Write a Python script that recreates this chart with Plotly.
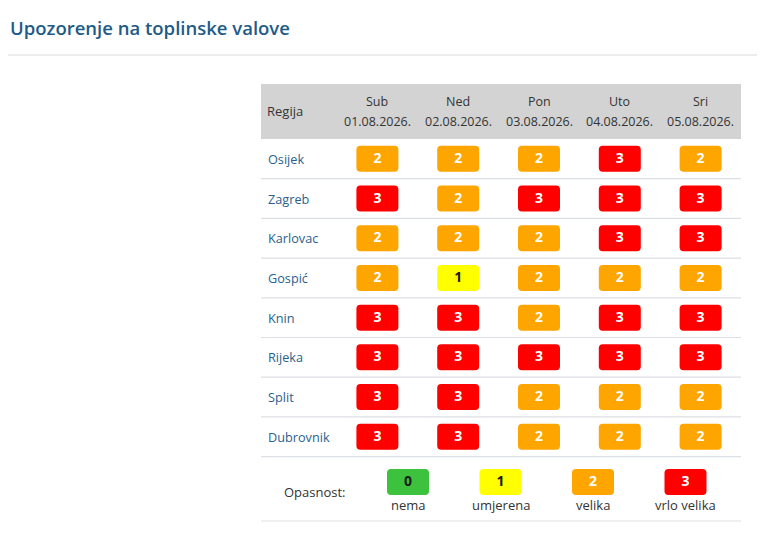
import plotly.graph_objects as go

# ------------------------
# Data
# ------------------------
title = "Upozorenje na toplinske valove"
regions = ["Osijek", "Zagreb", "Karlovac", "Gospić", "Knin", "Rijeka", "Split", "Dubrovnik"]
days = ["Sub", "Ned", "Pon", "Uto", "Sri"]
dates = ["01.08.2026.", "02.08.2026.", "03.08.2026.", "04.08.2026.", "05.08.2026."]
levels = [
    [2, 2, 2, 3, 2],  # Osijek
    [3, 2, 3, 3, 3],  # Zagreb
    [2, 2, 2, 3, 3],  # Karlovac
    [2, 1, 2, 2, 2],  # Gospić
    [3, 3, 2, 3, 3],  # Knin
    [3, 3, 3, 3, 3],  # Rijeka
    [3, 3, 2, 2, 2],  # Split
    [3, 3, 2, 2, 2],  # Dubrovnik
]
legend_values = [0, 1, 2, 3]
legend_labels = ["nema", "umjerena", "velika", "vrlo velika"]

# ------------------------
# Styling / layout (pixel units of the page)
# ------------------------
W, H = 765, 542
PAD = 8  # default body margin of the html page
FONT = "Open Sans"
fill = {0: "#3cc23c", 1: "#ffff00", 2: "#ffa500", 3: "#ff0000"}
ink = {0: "#1a1a1a", 1: "#1a1a1a", 2: "#ffffff", 3: "#ffffff"}

tbl_left, tbl_right = 261, 741
head_top, head_bot = 84, 139
row_h = 39.7
col0, col_w = 377.4, 80.8
box_w, box_h = 42, 26
leg_x0, leg_dx = 408, 92.5
leg_box_y, leg_lab_y = 482, 505
leg_bottom = 521

fig = go.Figure()

# level boxes
bx, by, bc, tx, ty, tt, tc = [], [], [], [], [], [], []
for r, row in enumerate(levels):
    yc = head_bot + row_h * (r + 0.5)
    for c, v in enumerate(row):
        xc = col0 + c * col_w
        bx.append(xc); by.append(yc - box_h / 2); bc.append(fill[v])
        tx.append(xc); ty.append(yc + 0.5); tt.append(str(v)); tc.append(ink[v])
for i, v in enumerate(legend_values):
    xc = leg_x0 + i * leg_dx
    bx.append(xc); by.append(leg_box_y - box_h / 2); bc.append(fill[v])
    tx.append(xc); ty.append(leg_box_y + 0.5); tt.append(str(v)); tc.append(ink[v])

fig.add_trace(go.Bar(
    x=bx, y=[box_h] * len(bx), base=by, width=box_w,
    marker=dict(color=bc, cornerradius=4, line=dict(width=0)),
    hoverinfo="skip", showlegend=False
))
fig.add_trace(go.Scatter(
    x=tx, y=ty, mode="text", text=tt,
    textfont=dict(family=FONT, size=14, color=tc, weight="bold"),
    hoverinfo="skip", showlegend=False
))

# header background
shapes = [dict(type="rect", xref="x", yref="y", x0=tbl_left, x1=tbl_right,
               y0=head_top, y1=head_bot, fillcolor="#d3d3d3", line=dict(width=0), layer="below")]
# title rule
shapes.append(dict(type="line", xref="x", yref="y", x0=PAD, x1=W, y0=55, y1=55,
                   line=dict(color="#d8dadd", width=1.2)))
# row separators
for r in range(len(regions)):
    yl = head_bot + row_h * (r + 1)
    shapes.append(dict(type="line", xref="x", yref="y", x0=tbl_left, x1=tbl_right,
                       y0=yl, y1=yl, line=dict(color="#dcdfe3", width=1.2)))
shapes.append(dict(type="line", xref="x", yref="y", x0=tbl_left, x1=tbl_right,
                   y0=leg_bottom, y1=leg_bottom, line=dict(color="#dcdfe3", width=1.2)))

ann = []
ann.append(dict(x=PAD, y=27, text=title, xanchor="left", yanchor="middle", showarrow=False,
                font=dict(family=FONT, size=18.5, color="#1e5b87", weight=600)))
ann.append(dict(x=265, y=111, text="Regija", xanchor="left", yanchor="middle", showarrow=False,
                font=dict(family=FONT, size=13, color="#333333")))
for c, (d, dt) in enumerate(zip(days, dates)):
    xc = col0 + c * col_w
    ann.append(dict(x=xc, y=101, text=d, xanchor="center", yanchor="middle", showarrow=False,
                    font=dict(family=FONT, size=12.5, color="#333333")))
    ann.append(dict(x=xc, y=121, text=dt, xanchor="center", yanchor="middle", showarrow=False,
                    font=dict(family=FONT, size=12.5, color="#333333")))
for r, name in enumerate(regions):
    yc = head_bot + row_h * (r + 0.5)
    ann.append(dict(x=266, y=yc, text=name, xanchor="left", yanchor="middle", showarrow=False,
                    font=dict(family=FONT, size=12.7, color="#2a5f8e")))
ann.append(dict(x=315, y=492, text="Opasnost:", xanchor="center", yanchor="middle", showarrow=False,
                font=dict(family=FONT, size=13, color="#333333")))
for i, lab in enumerate(legend_labels):
    ann.append(dict(x=leg_x0 + i * leg_dx, y=leg_lab_y, text=lab, xanchor="center", yanchor="middle",
                    showarrow=False, font=dict(family=FONT, size=13, color="#333333")))

fig.update_layout(
    width=W - PAD, height=H - PAD,
    margin=dict(l=0, r=0, t=0, b=0),
    paper_bgcolor="white", plot_bgcolor="white",
    xaxis=dict(range=[PAD, W], visible=False, fixedrange=True),
    yaxis=dict(range=[H, PAD], visible=False, fixedrange=True),
    barmode="overlay",
    shapes=shapes, annotations=ann,
)

fig.write_html("out.html")
